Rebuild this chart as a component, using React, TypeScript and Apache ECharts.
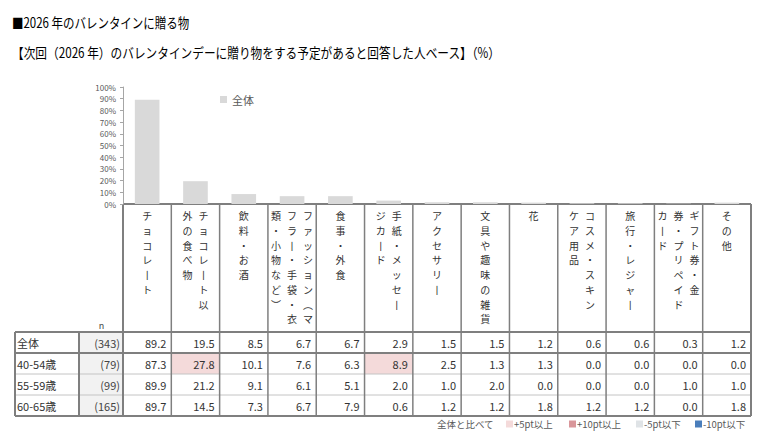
import { useEffect, useRef } from "react";
import * as echarts from "echarts";

// 全体 = first row; bars are drawn from it
const categories = [
  "チョコレート",
  "チョコレート以外の食べ物",
  "飲料・お酒",
  "ファッション（マフラー・手袋・衣類・小物など）",
  "食事・外食",
  "手紙・メッセージカード",
  "アクセサリー",
  "文具や趣味の雑貨",
  "花",
  "コスメ・スキンケア用品",
  "旅行・レジャー",
  "ギフト券・金券・プリペイドカード",
  "その他",
];

// vertical header lines, read right to left
const headerLines = [
  ["チョコレート"],
  ["チョコレート以", "外の食べ物"],
  ["飲料・お酒"],
  ["ファッション（マ", "フラー・手袋・衣", "類・小物など）"],
  ["食事・外食"],
  ["手紙・メッセー", "ジカード"],
  ["アクセサリー"],
  ["文具や趣味の雑貨"],
  ["花"],
  ["コスメ・スキン", "ケア用品"],
  ["旅行・レジャー"],
  ["ギフト券・金", "券・プリペイド", "カード"],
  ["その他"],
];

const rowLabels = ["全体", "40-54歳", "55-59歳", "60-65歳"];
const rowN = [343, 79, 99, 165];
const rowValues = [
  [89.2, 19.5, 8.5, 6.7, 6.7, 2.9, 1.5, 1.5, 1.2, 0.6, 0.6, 0.3, 1.2],
  [87.3, 27.8, 10.1, 7.6, 6.3, 8.9, 2.5, 1.3, 1.3, 0.0, 0.0, 0.0, 0.0],
  [89.9, 21.2, 9.1, 6.1, 5.1, 2.0, 1.0, 2.0, 0.0, 0.0, 0.0, 1.0, 1.0],
  [89.7, 14.5, 7.3, 6.7, 7.9, 0.6, 1.2, 1.2, 1.8, 1.2, 1.2, 0.0, 1.8],
];

const legendLabels = ["+5pt以上", "+10pt以上", "-5pt以下", "-10pt以下"];
const legendColors = ["#f4dada", "#d9969a", "#dfe3e6", "#4a7ebb"];

const FONT = '"Noto Sans CJK JP", "Noto Sans", sans-serif';
const W = 763;
const H = 438;
const GRID_L = 123;
const GRID_R = 751;
const GRID_T = 87;
const AXIS_Y = 204;
const HEAD_B = 332;
const ROW_H = 21;
const LABEL_L = 15;
const N_L = 79;
const LEGEND_X = [506, 569, 636, 695];

const BORDER = "#7f7f7f";
const THIN = "#c4c4c4";

function txt(x: number, y: number, text: string, style: any = {}, extra: any = {}) {
  return {
    type: "text",
    x,
    y,
    ...extra,
    style: {
      text,
      fontFamily: FONT,
      fontSize: 11,
      fill: "#333",
      align: "left",
      verticalAlign: "middle",
      ...style,
    },
  };
}

function line(x1: number, y1: number, x2: number, y2: number, stroke: string, lineWidth: number) {
  return { type: "line", shape: { x1, y1, x2, y2 }, style: { stroke, lineWidth } };
}

// vertical-writing glyphs for a few characters
function verticalize(s: string) {
  return Array.from(s)
    .map((c) => (c === "ー" ? "丨" : c === "（" ? "︵" : c === "）" ? "︶" : c))
    .join("\n");
}

function cellColor(diff: number) {
  if (diff >= 10) return legendColors[1];
  if (diff > 5) return legendColors[0];
  if (diff <= -10) return legendColors[3];
  if (diff < -5) return legendColors[2];
  return null;
}

function buildGraphic() {
  const els: any[] = [];
  const n = categories.length;
  const cw = (GRID_R - GRID_L) / n;
  const colX = (i: number) => GRID_L + i * cw;
  const bottom = HEAD_B + ROW_H * rowLabels.length;

  els.push(txt(12, 22, "■2026 年のバレンタインに贈る物", { fontSize: 14, fill: "#000" }, { scaleX: 0.82 }));
  els.push(
    txt(12, 52, "【次回（2026 年）のバレンタインデーに贈り物をする予定があると回答した人ベース】（%）", { fontSize: 14, fill: "#000" }, { scaleX: 0.835 })
  );

  // fills
  els.push({ type: "rect", shape: { x: N_L, y: HEAD_B, width: GRID_L - N_L, height: bottom - HEAD_B }, style: { fill: "#f2f2f2" } });
  rowValues.forEach((row, r) => {
    if (r === 0) return;
    row.forEach((v, i) => {
      const c = cellColor(v - rowValues[0][i]);
      if (c) {
        els.push({ type: "rect", shape: { x: colX(i), y: HEAD_B + r * ROW_H, width: cw, height: ROW_H }, style: { fill: c } });
      }
    });
  });

  // grid lines
  for (let r = 2; r < rowLabels.length; r++) {
    els.push(line(LABEL_L, HEAD_B + r * ROW_H, GRID_R, HEAD_B + r * ROW_H, THIN, 1));
  }
  els.push(line(GRID_L, AXIS_Y, GRID_R, AXIS_Y, BORDER, 2));
  els.push(line(LABEL_L, HEAD_B, GRID_R, HEAD_B, BORDER, 2));
  els.push(line(LABEL_L, HEAD_B + ROW_H, GRID_R, HEAD_B + ROW_H, BORDER, 2));
  els.push(line(LABEL_L, bottom, GRID_R, bottom, BORDER, 2));
  els.push(line(LABEL_L, HEAD_B, LABEL_L, bottom, BORDER, 2));
  els.push(line(N_L, HEAD_B, N_L, bottom, BORDER, 2));
  for (let i = 0; i <= n; i++) {
    els.push(line(colX(i), AXIS_Y, colX(i), bottom, BORDER, i === 0 || i === n ? 2 : 1.5));
  }

  // header
  els.push(txt(101.5, 325, "n", { fontSize: 9, align: "center", fill: "#444" }));
  headerLines.forEach((lines, i) => {
    const cx = colX(i) + cw / 2;
    const k = lines.length;
    lines.forEach((l, j) => {
      els.push(
        txt(cx + ((k - 1) / 2 - j) * 16, 208.5, verticalize(l), {
          fontSize: 10,
          lineHeight: 14.7,
          align: "center",
          verticalAlign: "top",
          fill: "#333",
        })
      );
    });
  });

  // body
  rowLabels.forEach((label, r) => {
    const cy = HEAD_B + r * ROW_H + ROW_H / 2;
    els.push(txt(LABEL_L + 2, cy, label));
    els.push(txt(GRID_L - 3, cy, `(${rowN[r]})`, { align: "right", fill: "#444" }));
    rowValues[r].forEach((v, i) => {
      els.push(txt(colX(i + 1) - 5, cy, v.toFixed(1), { align: "right" }));
    });
  });

  // bottom legend
  const ly = 424;
  els.push(txt(437, ly, "全体と比べて", { fontSize: 9.5, fill: "#595959" }));
  legendLabels.forEach((l, i) => {
    els.push({ type: "rect", shape: { x: LEGEND_X[i], y: ly - 3.5, width: 7, height: 7 }, style: { fill: legendColors[i] } });
    els.push(txt(LEGEND_X[i] + 8, ly, l, { fontSize: 9.5, fill: "#595959" }));
  });

  return els;
}

export default function App() {
  const ref = useRef<HTMLDivElement>(null);

  useEffect(() => {
    if (!ref.current) return;
    const chart = echarts.init(ref.current, undefined, { renderer: "svg" });
    chart.setOption({
      animation: false,
      textStyle: { fontFamily: FONT },
      legend: {
        data: ["全体"],
        left: 215,
        top: 89,
        icon: "rect",
        itemWidth: 7,
        itemHeight: 7,
        itemGap: 4,
        textStyle: { fontSize: 11, color: "#595959", fontFamily: FONT },
      },
      grid: { left: GRID_L, right: W - GRID_R, top: GRID_T, bottom: H - AXIS_Y },
      xAxis: {
        type: "category",
        data: categories,
        axisLabel: { show: false },
        axisTick: { show: false },
        axisLine: { show: false },
      },
      yAxis: {
        type: "value",
        min: 0,
        max: 100,
        interval: 10,
        axisLabel: { formatter: "{value}%", fontSize: 8, color: "#595959", margin: 7, fontFamily: FONT },
        axisLine: { show: true, lineStyle: { color: "#a6a6a6", width: 1 } },
        axisTick: { show: true, length: 3, lineStyle: { color: "#a6a6a6" } },
        splitLine: { show: false },
      },
      series: [
        {
          name: "全体",
          type: "bar",
          data: rowValues[0],
          barWidth: "51%",
          itemStyle: { color: "#d9d9d9" },
        },
      ],
      graphic: buildGraphic(),
    });
    return () => chart.dispose();
  }, []);

  return <div ref={ref} style={{ position: "absolute", left: 0, top: 0, width: W, height: H }} />;
}
